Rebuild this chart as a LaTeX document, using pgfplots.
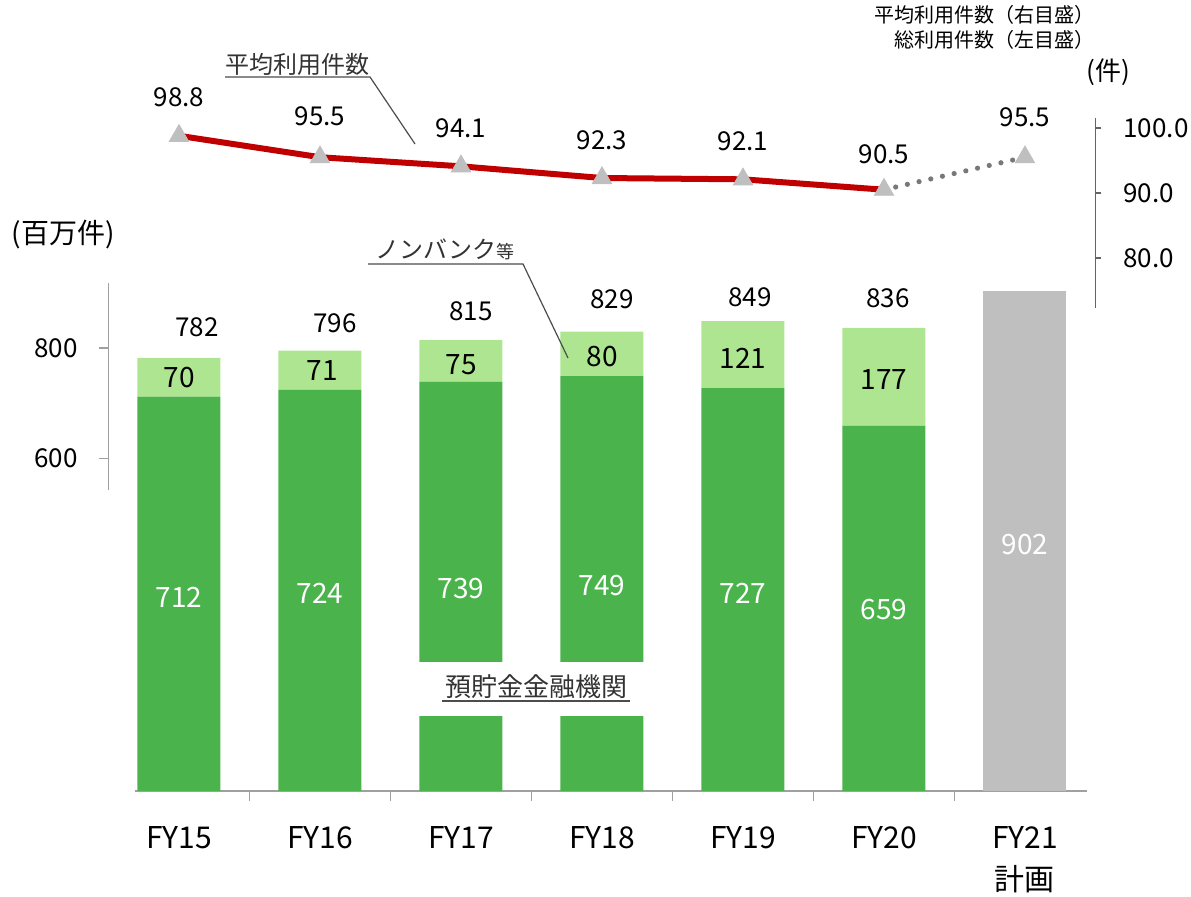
\documentclass[border=0pt]{standalone}
\usepackage{pgfplots}
\pgfplotsset{compat=1.18}
\usepackage{fontspec}
\setmainfont{Noto Sans CJK JP}
\definecolor{dg}{RGB}{75,179,75}
\definecolor{lg}{RGB}{174,229,144}
\definecolor{gb}{RGB}{191,191,191}
\definecolor{rl}{RGB}{192,0,0}
\definecolor{axc}{RGB}{160,160,160}
\definecolor{axr}{RGB}{100,100,100}
\definecolor{dot}{RGB}{120,120,120}
\newcommand{\fs}[1]{\fontsize{#1}{#1}\selectfont}
\newcommand{\pxl}[2]{({#1*0.5pt},{(897-#2)*0.5pt})}
\begin{document}
\begin{tikzpicture}
\path[use as bounding box] (0,0) rectangle (595.5pt,448.5pt);
% ---------------- bar axis (left scale) ----------------
\begin{axis}[
  at={(54.25pt,53pt)}, anchor=south west, scale only axis,
  width=493.5pt, height=277pt,
  xmin=-0.5, xmax=6.5, ymin=0, ymax=1000,
  clip=false,
  ybar stacked, bar width=41.5pt,
  axis x line*=bottom, axis y line*=left,
  x axis line style={-, draw=axc, line width=0.8pt, shorten <=13.25pt, shorten >=4.25pt},
  y axis line style={-, draw=axc, line width=0.8pt, shorten <=150.4pt, shorten >=23pt},
  tick align=outside, major tick length=5pt,
  xtick={0.5,1.5,2.5,3.5,4.5,5.5}, xticklabels={},
  x tick style={draw=axc, line width=0.8pt},
  extra x ticks={0,1,2,3,4,5,6},
  extra x tick labels={FY15,FY16,FY17,FY18,FY19,FY20,{FY21\\計画}},
  extra x tick style={major tick length=0pt, tick style={draw=none},
     tick label style={font=\fontsize{15}{21}\selectfont, align=center, yshift=-14pt}},
  ytick={600,800},
  y tick style={draw=axc, line width=0.8pt},
  yticklabel style={font=\fs{13}, xshift=-7pt},
  /pgf/number format/assume math mode=true,
]
\addplot[fill=dg, draw=none] coordinates {(0,712)(1,724)(2,739)(3,749)(4,727)(5,659)(6,0)};
\addplot[fill=lg, draw=none] coordinates {(0,70)(1,71)(2,75)(3,80)(4,121)(5,177)(6,0)};
\addplot[fill=gb, draw=none] coordinates {(0,0)(1,0)(2,0)(3,0)(4,0)(5,0)(6,902)};
\end{axis}
% ---------------- line axis (right scale) ----------------
\begin{axis}[
  at={(54.25pt,294.5pt)}, anchor=south west, scale only axis,
  width=493.5pt, height=95pt,
  xmin=-0.5, xmax=6.5, ymin=72.3, ymax=101.54,
  clip=false,
  hide x axis, axis y line*=right,
  y axis line style={-, draw=axr, line width=0.8pt},
  ytick={80,90,100}, tick align=outside, major tick length=3pt,
  y tick style={draw=axr, line width=0.8pt},
  yticklabel style={font=\fs{13}, xshift=7.5pt, /pgf/number format/.cd, fixed, fixed zerofill, precision=1},
  /pgf/number format/assume math mode=true,
]
\addplot[rl, line width=3pt] coordinates {(0,98.8)(1,95.5)(2,94.1)(3,92.3)(4,92.1)(5,90.5)};
\addplot[dot, line width=2.6pt, line cap=round, dash pattern=on 0pt off 6pt] coordinates {(5,90.5)(6,95.5)};
\addplot[only marks, color=gb, mark=triangle*, mark size=5.6pt, mark options={fill=gb, draw=gb}]
  coordinates {(0,98.8)(1,95.5)(2,94.1)(3,92.3)(4,92.1)(5,90.5)(6,95.5)};
\node[font=\fs{13}, yshift=19.5pt] at (axis cs:0,98.8) {98.8};
\node[font=\fs{13}, yshift=20.5pt] at (axis cs:1,95.5) {95.5};
\node[font=\fs{13}, yshift=19pt] at (axis cs:2,94.1) {94.1};
\node[font=\fs{13}, yshift=19pt] at (axis cs:3,92.3) {92.3};
\node[font=\fs{13}, yshift=19pt] at (axis cs:4,92.1) {92.1};
\node[font=\fs{13}, yshift=17.5pt] at (axis cs:5,90.5) {90.5};
\node[font=\fs{13}, yshift=20pt] at (axis cs:6,95.5) {95.5};
\end{axis}
% ---------------- labels over the bars (pixel coords, 1px = 0.5pt) ----------------
\fill[white] \pxl{410}{662} rectangle \pxl{652}{716};
\node[font=\fs{13}] at \pxl{197}{327} {782};
\node[font=\fs{13}] at \pxl{335}{323} {796};
\node[font=\fs{13}] at \pxl{471}{311} {815};
\node[font=\fs{13}] at \pxl{612}{299} {829};
\node[font=\fs{13}] at \pxl{750}{297} {849};
\node[font=\fs{13}] at \pxl{888}{298} {836};
\node[font=\fs{14}] at \pxl{179}{378} {70};
\node[font=\fs{14}] at \pxl{322}{371} {71};
\node[font=\fs{14}] at \pxl{461}{365} {75};
\node[font=\fs{14}] at \pxl{602}{357} {80};
\node[font=\fs{14}] at \pxl{743}{358} {121};
\node[font=\fs{14}] at \pxl{884}{380} {177};
\node[font=\fs{14}, text=white] at \pxl{179}{597} {712};
\node[font=\fs{14}, text=white] at \pxl{320}{593} {724};
\node[font=\fs{14}, text=white] at \pxl{461}{589} {739};
\node[font=\fs{14}, text=white] at \pxl{602}{586} {749};
\node[font=\fs{14}, text=white] at \pxl{743}{593} {727};
\node[font=\fs{14}, text=white] at \pxl{884}{610} {659};
\node[font=\fs{14}, text=white] at \pxl{1025}{545} {902};
% ---------------- annotations ----------------
\node[font=\fs{12}, text=black!80] at \pxl{297}{64} {平均利用件数};
\draw[black!70, line width=0.6pt] \pxl{225}{77} -- \pxl{370}{77} -- \pxl{415}{144};
\node[font=\fs{12}, text=black!80] at \pxl{445}{249} {ノンバンク{\fs{9}等}};
\draw[black!70, line width=0.6pt] \pxl{368}{264} -- \pxl{523}{264} -- \pxl{568}{358};
\node[font=\fs{13}, text=black!80] at \pxl{536}{687} {預貯金金融機関};
\draw[black!70, line width=0.6pt] \pxl{442}{701} -- \pxl{630}{701};
\node[font=\fs{10}, anchor=east, inner sep=0pt] at \pxl{1095}{15} {平均利用件数（右目盛）};
\node[font=\fs{10}, anchor=east, inner sep=0pt] at \pxl{1095}{40} {総利用件数（左目盛）};
\node[font=\fs{13}] at \pxl{1108}{72} {(件)};
\node[font=\fs{14}] at \pxl{63}{235} {(百万件)};
\end{tikzpicture}
\end{document}
